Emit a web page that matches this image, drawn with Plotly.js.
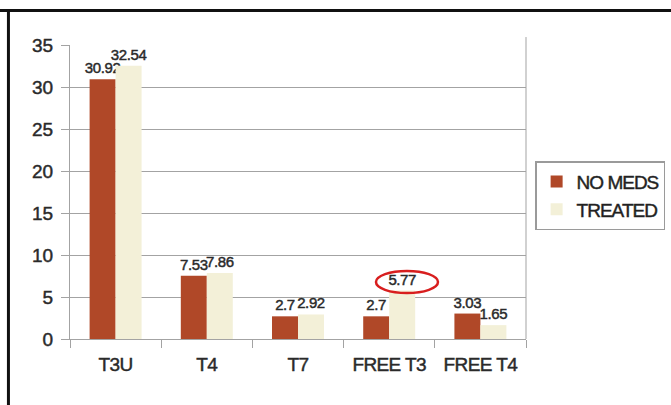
<!DOCTYPE html>
<html>
<head>
<meta charset="utf-8">
<script src="https://cdn.plot.ly/plotly-3.0.1.min.js"></script>
<style>
html,body{margin:0;padding:0;background:#fff;}
#chart{width:671px;height:405px;}
#chart svg text{stroke:#2a2a2a;stroke-width:0.45px;}
.legendtext{letter-spacing:-1px;}
.xtick text{letter-spacing:-0.6px;}
.bartext{letter-spacing:-0.4px;}
</style>
</head>
<body>
<div id="chart"></div>
<script>
const categories = ["T3U", "T4", "T7", "FREE T3", "FREE T4"];
const noMeds = [30.92, 7.53, 2.7, 2.7, 3.03];
const treated = [32.54, 7.86, 2.92, 5.77, 1.65];
const noMedsLabels = ["30.92", "7.53", "2.7", "2.7", "3.03"];
const treatedLabels = ["32.54", "7.86", "2.92", "5.77", "1.65"];
const yTicks = [0, 5, 10, 15, 20, 25, 30, 35];

const BROWN = "#B04828";
const CREAM = "#F3F0D8";
const GRID = "#a3a3a3";
const TXT = "#2a2a2a";
const FONT = "Liberation Sans, Arial, sans-serif";

const traces = [
  {
    type: "bar", name: "NO MEDS", x: categories, y: noMeds,
    text: noMedsLabels, textposition: "outside", constraintext: "none", cliponaxis: false,
    textfont: {family: FONT, size: 15, color: TXT},
    marker: {color: BROWN}, hoverinfo: "none"
  },
  {
    type: "bar", name: "TREATED", x: categories, y: treated,
    text: treatedLabels, textposition: "outside", constraintext: "none", cliponaxis: false,
    textfont: {family: FONT, size: 15, color: TXT},
    marker: {color: CREAM}, hoverinfo: "none"
  }
];

// highlight ellipse around the FREE T3 treated value
const hi = 3;
const layout = {
  width: 671, height: 405,
  margin: {l: 70, r: 145, t: 45, b: 66, autoexpand: false},
  paper_bgcolor: "#fff", plot_bgcolor: "#fff",
  font: {family: FONT, color: TXT},
  barmode: "group", bargap: 0.43, bargroupgap: 0,
  showlegend: true,
  legend: {
    x: 1.02, y: 0.605, xanchor: "left", yanchor: "top",
    bordercolor: "#9a9a9a", borderwidth: 1.5,
    font: {family: FONT, size: 19, color: "#1e1e1e"},
    itemwidth: 30, tracegroupgap: 4
  },
  xaxis: {
    type: "category", showgrid: false, showline: true, linecolor: GRID, linewidth: 1,
    ticks: "outside", tickson: "boundaries", ticklen: 8, tickcolor: GRID,
    tickfont: {family: FONT, size: 19, color: TXT}, ticklabelstandoff: 8,
    fixedrange: true
  },
  yaxis: {
    range: [0, 35], tickvals: yTicks, showgrid: true, gridcolor: GRID, gridwidth: 1,
    showline: true, linecolor: GRID, linewidth: 1, zeroline: false,
    ticks: "outside", ticklen: 8, tickcolor: GRID,
    tickfont: {family: FONT, size: 19, color: TXT}, ticklabelstandoff: 4,
    fixedrange: true
  },
  shapes: [
    {type: "line", xref: "paper", yref: "paper", x0: -0.1535, x1: 1.318, y0: 1.117, y1: 1.117,
     line: {color: "#111", width: 3}},
    {type: "line", xref: "paper", yref: "paper", x0: -0.135, x1: -0.135, y0: 1.122, y1: -0.23,
     line: {color: "#111", width: 3}},
    {type: "line", xref: "paper", yref: "paper", x0: 1, x1: 1, y0: 0, y1: 1.027,
     line: {color: GRID, width: 1}},
    {type: "circle", xref: "x", yref: "y",
     x0: hi + 0.195 - 0.34, x1: hi + 0.195 + 0.34,
     y0: treated[hi] - 0.3, y1: treated[hi] + 2.33,
     line: {color: "#d81e1e", width: 2.5}, fillcolor: "rgba(0,0,0,0)"}
  ]
};

Plotly.newPlot("chart", traces, layout, {staticPlot: true, displayModeBar: false});
</script>
</body>
</html>
